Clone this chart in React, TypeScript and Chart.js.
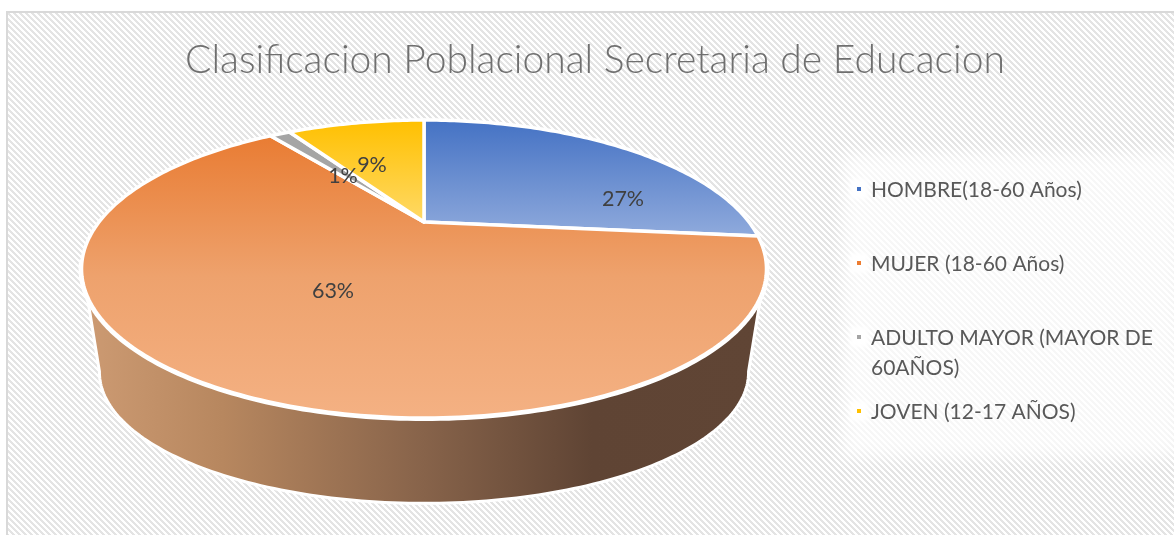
import React, { useEffect, useRef } from "react";
import { Chart, registerables } from "chart.js";

Chart.register(...registerables);

const titleText = "Clasificacion Poblacional Secretaria de Educacion";
const categories = [
  "HOMBRE(18-60 Años)",
  "MUJER (18-60 Años)",
  "ADULTO MAYOR (MAYOR DE 60AÑOS)",
  "JOVEN (12-17 AÑOS)",
];
const shares = [26.6, 63.3, 1.3, 8.8];
const percentLabels = ["27%", "63%", "1%", "9%"];
const gradientTop = ["#4472c4", "#e97c33", "#a5a5a5", "#ffc000"];
const gradientMid = ["#6a8ed0", "#eea26d", "#a5a5a5", "#ffcd33"];
const gradientBottom = ["#8faadc", "#f4b183", "#a5a5a5", "#ffd966"];
const markerColors = ["#4472c4", "#ed7d31", "#a5a5a5", "#ffc000"];

// Drawing geometry of the tilted disc (perspective projection of a unit disc)
const FONT = "Lato, Carlito, 'Noto Sans', sans-serif";
const CX = 424;
const TOP = { cy: 222, a: 325, b: 134.2, p: 0.3154 };
const BASE = { cy: 331, a: 308, b: 118, p: 0.3154 };
const LABEL_ANCHORS = [
  [623, 199],
  [333, 291],
  [343, 176],
  [372, 165],
];
const LEGEND_ROWS = [190, 264, 338, 412];

type Disc = typeof TOP;
const project = (d: Disc, theta: number, r = 1): [number, number] => {
  const u = r * Math.sin(theta);
  const v = r * Math.cos(theta);
  const k = 1 + d.p * v;
  return [CX + (d.a * u) / k, d.cy - (d.b * v) / k];
};
const deg = (x: number) => (x * Math.PI) / 180;

const scene = {
  id: "scene",
  beforeDraw(chart: any) {
    const { ctx, width, height } = chart;
    ctx.save();
    const tile = document.createElement("canvas");
    tile.width = 6;
    tile.height = 6;
    const t = tile.getContext("2d")!;
    t.fillStyle = "#ffffff";
    t.fillRect(0, 0, 6, 6);
    t.fillStyle = "#e4e4e4";
    for (let y = 0; y < 6; y++)
      for (let x = 0; x < 6; x++) if ((x - y + 60) % 6 < 3) t.fillRect(x, y, 1, 1);
    ctx.fillStyle = "#ffffff";
    ctx.fillRect(0, 0, width, height);
    ctx.fillStyle = ctx.createPattern(tile, "repeat");
    ctx.fillRect(7, 12, width, height);
    ctx.strokeStyle = "#d9d9d9";
    ctx.lineWidth = 2;
    ctx.beginPath();
    ctx.moveTo(7, height + 5);
    ctx.lineTo(7, 12);
    ctx.lineTo(width + 5, 12);
    ctx.stroke();
    ctx.restore();
  },
  beforeDatasetsDraw(chart: any) {
    const { ctx } = chart;
    const meta = chart.getDatasetMeta(0);
    ctx.save();
    ctx.lineJoin = "round";

    // side wall
    ctx.beginPath();
    for (let a = 118; a <= 242; a++) {
      const [x, y] = project(TOP, deg(a));
      a === 118 ? ctx.moveTo(x, y) : ctx.lineTo(x, y);
    }
    for (let a = 252; a >= 108; a--) {
      const [x, y] = project(BASE, deg(a));
      ctx.lineTo(x, y);
    }
    ctx.closePath();
    const wall = ctx.createLinearGradient(88, 0, 760, 0);
    wall.addColorStop(0, "#cc9a72");
    wall.addColorStop(0.2, "#b7875f");
    wall.addColorStop(0.5, "#87634a");
    wall.addColorStop(0.75, "#5f4434");
    wall.addColorStop(1, "#604535");
    ctx.fillStyle = wall;
    ctx.fill();
    ctx.strokeStyle = "#ffffff";
    ctx.lineWidth = 3;
    ctx.stroke();

    // thicker white lip along the front rim
    ctx.beginPath();
    for (let a = 105; a <= 255; a++) {
      const [x, y] = project(TOP, deg(a));
      a === 105 ? ctx.moveTo(x, y) : ctx.lineTo(x, y);
    }
    ctx.lineWidth = 6;
    ctx.stroke();

    // top face, from the angles Chart.js computed for each arc
    meta.data.forEach((arc: any, i: number) => {
      const start = arc.startAngle + Math.PI / 2;
      const end = arc.endAngle + Math.PI / 2;
      const pts: [number, number][] = [project(TOP, 0, 0)];
      const n = Math.max(2, Math.ceil((end - start) / deg(1)));
      for (let k = 0; k <= n; k++) pts.push(project(TOP, start + ((end - start) * k) / n));
      const ys = pts.map((q) => q[1]);
      const g = ctx.createLinearGradient(0, Math.min(...ys), 0, Math.max(...ys));
      g.addColorStop(0, gradientTop[i]);
      g.addColorStop(0.5, gradientMid[i]);
      g.addColorStop(1, gradientBottom[i]);
      ctx.beginPath();
      pts.forEach(([x, y], k) => (k ? ctx.lineTo(x, y) : ctx.moveTo(x, y)));
      ctx.closePath();
      ctx.fillStyle = g;
      ctx.fill();
      ctx.strokeStyle = "#ffffff";
      ctx.lineWidth = 3.5;
      ctx.stroke();
    });

    // percentage labels
    ctx.font = `21.5px ${FONT}`;
    ctx.fillStyle = "#404040";
    ctx.textAlign = "center";
    ctx.textBaseline = "middle";
    percentLabels.forEach((s, i) => ctx.fillText(s, LABEL_ANCHORS[i][0], LABEL_ANCHORS[i][1]));

    // legend
    ctx.save();
    ctx.filter = "blur(8px)";
    ctx.fillStyle = "rgba(255,255,255,0.7)";
    ctx.fillRect(842, 154, 340, 304);
    ctx.restore();
    ctx.font = `21px ${FONT}`;
    ctx.textAlign = "left";
    chart.data.labels.forEach((label: string, i: number) => {
      const y = LEGEND_ROWS[i];
      ctx.save();
      ctx.filter = "blur(2px)";
      ctx.fillStyle = "#ffffff";
      ctx.fillRect(850, y - 11, 18, 20);
      ctx.restore();
      ctx.fillStyle = markerColors[i];
      ctx.fillRect(857, y - 3, 4, 4);
      ctx.fillStyle = "#595959";
      const words = label.split(" ");
      let line = "";
      let row = 0;
      words.forEach((w) => {
        const next = line ? line + " " + w : w;
        if (ctx.measureText(next).width > 295) {
          ctx.fillText(line, 871, y + row * 30);
          row++;
          line = w;
        } else line = next;
      });
      ctx.fillText(line, 871, y + row * 30);
    });
    ctx.restore();
    return false;
  },
};

export default function App() {
  const ref = useRef<HTMLCanvasElement>(null);
  useEffect(() => {
    document.body.style.margin = "0";
    const chart = new Chart(ref.current!, {
      type: "pie",
      data: {
        labels: categories,
        datasets: [{ data: shares, backgroundColor: markerColors }],
      },
      options: {
        animation: false,
        responsive: false,
        plugins: {
          legend: { display: false },
          tooltip: { enabled: false },
          title: {
            display: true,
            text: titleText,
            color: "#6f6f6f",
            font: { family: FONT, size: 39, weight: "300" },
            padding: { top: 37, bottom: 10 },
          },
        },
      },
      plugins: [scene],
    } as any);
    return () => chart.destroy();
  }, []);
  return (
    <div style={{ width: 1174, height: 535, overflow: "hidden" }}>
      <canvas ref={ref} width={1190} height={535} style={{ display: "block", width: 1190, height: 535 }} />
    </div>
  );
}
